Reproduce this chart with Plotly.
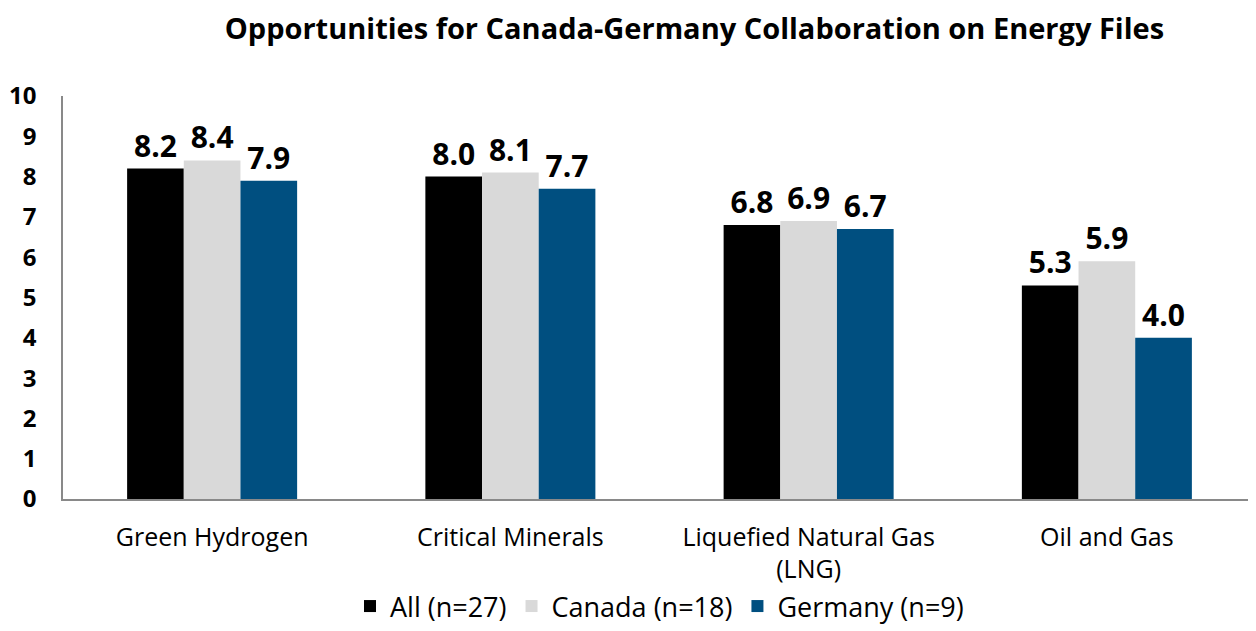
import plotly.graph_objects as go

categories = ["Green Hydrogen", "Critical Minerals", "Liquefied Natural Gas<br>(LNG)", "Oil and Gas"]
all_vals = [8.2, 8.0, 6.8, 5.3]
canada_vals = [8.4, 8.1, 6.9, 5.9]
germany_vals = [7.9, 7.7, 6.7, 4.0]
series_names = ["All (n=27)", "Canada (n=18)", "Germany (n=9)"]
colors = ["#000000", "#D9D9D9", "#004F80"]

FONT = "'Open Sans', sans-serif"

fig = go.Figure()
for name, vals, col in zip(series_names, [all_vals, canada_vals, germany_vals], colors):
    fig.add_trace(go.Bar(
        x=categories, y=vals, name=name, marker_color=col, marker_line_width=0,
        texttemplate="%{y:.1f}", textposition="outside", cliponaxis=False,
        textfont=dict(family=FONT, size=30, color="#000000", weight="bold"),
    ))

fig.update_layout(
    width=1248, height=623,
    margin=dict(l=55, r=0, t=88, b=132),
    plot_bgcolor="white", paper_bgcolor="white",
    barmode="group", bargap=0.43, bargroupgap=0,
    title=dict(text="<b>Opportunities for Canada-Germany Collaboration on Energy Files</b>",
               x=0.55, xanchor="center", y=0.967, yanchor="middle",
               font=dict(family=FONT, size=29, color="#000000")),
    font=dict(family=FONT, color="#000000"),
    showlegend=True,
    legend=dict(orientation="h", x=0.5, xanchor="center",
                yref="container", y=-0.01, yanchor="bottom",
                bgcolor="rgba(0,0,0,0)",
                font=dict(family=FONT, size=27, color="#000000"),
                itemsizing="constant", itemwidth=30, traceorder="normal"),
)
fig.update_yaxes(range=[0, 10], dtick=1, showgrid=False, showline=True,
                 linecolor="#898989", linewidth=1.5, ticks="",
                 tickfont=dict(family=FONT, size=24, color="#000000", weight="bold"),
                 ticklabelstandoff=20, zeroline=False, automargin=False)
fig.update_xaxes(showline=True, linecolor="#898989", linewidth=1.5, ticks="",
                 tickfont=dict(family=FONT, size=25, color="#000000"),
                 ticklabelstandoff=15, automargin=False)

fig.write_html("out.html")
